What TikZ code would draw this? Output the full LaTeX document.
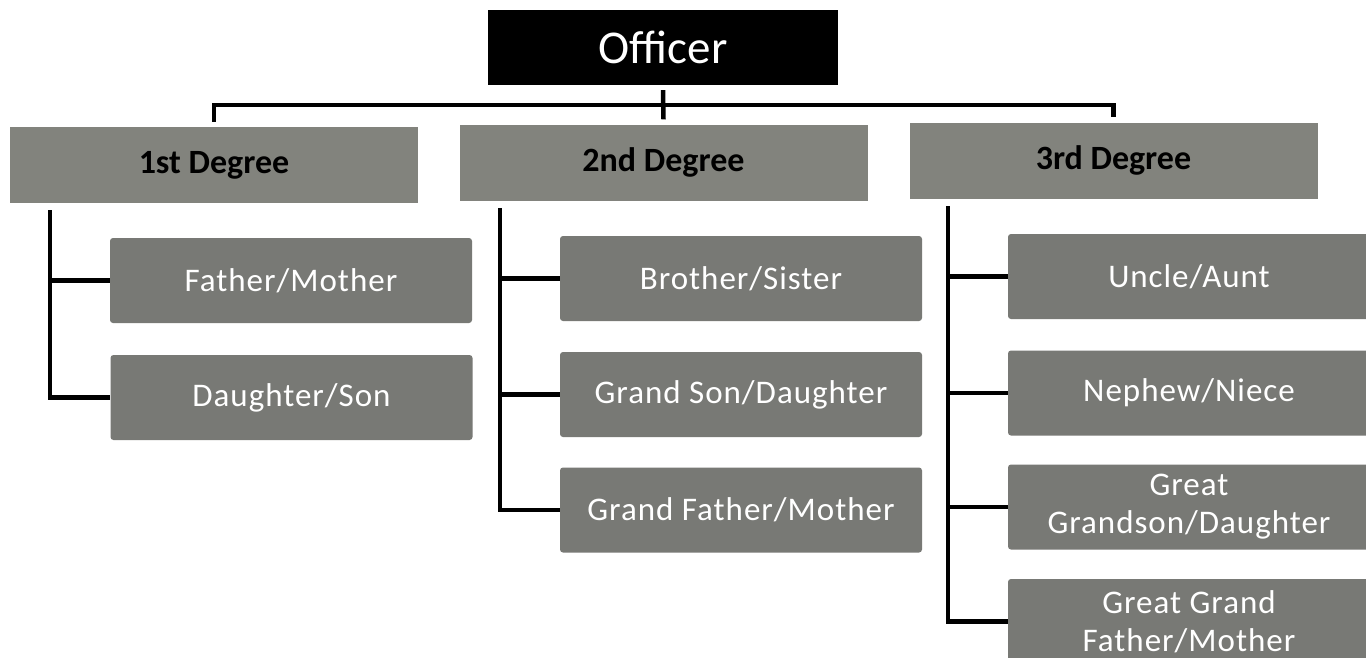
\documentclass[tikz,border=0pt]{standalone}
\usepackage{fontspec}
\setmainfont{Carlito}
\usepackage{tikz}
\usetikzlibrary{positioning}

\begin{document}
\begin{tikzpicture}[
  x=1pt, y=-1pt,
  officerbox/.style={rectangle, fill=black, text=white, minimum width=350pt, minimum height=75pt,
    font=\fontsize{47}{50}\selectfont, inner sep=0pt},
  degreebox/.style={rectangle, fill=degreegray, text=black, minimum width=408pt, minimum height=76pt,
    font=\fontsize{34}{38}\selectfont\bfseries, inner sep=0pt},
  relbox/.style={rectangle, rounded corners=3pt, fill=relgray, text=white, minimum width=362pt,
    minimum height=85pt, font=\fontsize{33}{38}\selectfont\addfontfeatures{LetterSpace=3}, align=center, inner sep=0pt},
  link/.style={draw=black, line width=4.5pt}
]
\definecolor{degreegray}{HTML}{82837D}
\definecolor{relgray}{HTML}{787975}
\clip (0,0) rectangle (1366,657);
\fill[white] (0,0) rectangle (1366,657);

% top of the chart
\node[officerbox] (officer) at (663,47.5) {Officer};
\node[degreebox] (deg1) at (214,165) {1st Degree};
\node[degreebox] (deg2) at (663.5,162.5) {2nd Degree};
\node[degreebox] (deg3) at (1113.5,160.5) {3rd Degree};

% relatives
\node[relbox] (fathermother) at (291,280.5) {Father/Mother};
\node[relbox] (daughterson) at (291.5,397.5) {Daughter/Son};
\node[relbox] (brothersister) at (741,278.5) {Brother/Sister};
\node[relbox] (grandson) at (741,394.5) {Grand Son/Daughter};
\node[relbox] (grandfather) at (741,510) {Grand Father/Mother};
\node[relbox] (uncleaunt) at (1189,276.5) {Uncle/Aunt};
\node[relbox] (nephewniece) at (1189,393) {Nephew/Niece};
\node[relbox] (greatgrandson) at (1189,507) {Great\\Grandson/Daughter};
\node[relbox] (greatgrandfather) at (1189,621.5) {Great Grand\\Father/Mother};

% connectors
\coordinate (bus) at (663,105);
\coordinate (spine1) at (50,210);
\coordinate (spine2) at (500,208);
\coordinate (spine3) at (948,206);

\draw[link] ([yshift=5pt]deg1.north) |- (bus) -| ([yshift=5pt]deg3.north);
\draw[link] ([yshift=-5pt]officer.south) -- ([yshift=5pt]deg2.north);

\draw[link] (spine1) |- (fathermother.west);
\draw[link] (spine1) |- (daughterson.west);
\draw[link] (spine2) |- (brothersister.west);
\draw[link] (spine2) |- (grandson.west);
\draw[link] (spine2) |- (grandfather.west);
\draw[link] (spine3) |- (uncleaunt.west);
\draw[link] (spine3) |- (nephewniece.west);
\draw[link] (spine3) |- (greatgrandson.west);
\draw[link] (spine3) |- (greatgrandfather.west);
\end{tikzpicture}
\end{document}
